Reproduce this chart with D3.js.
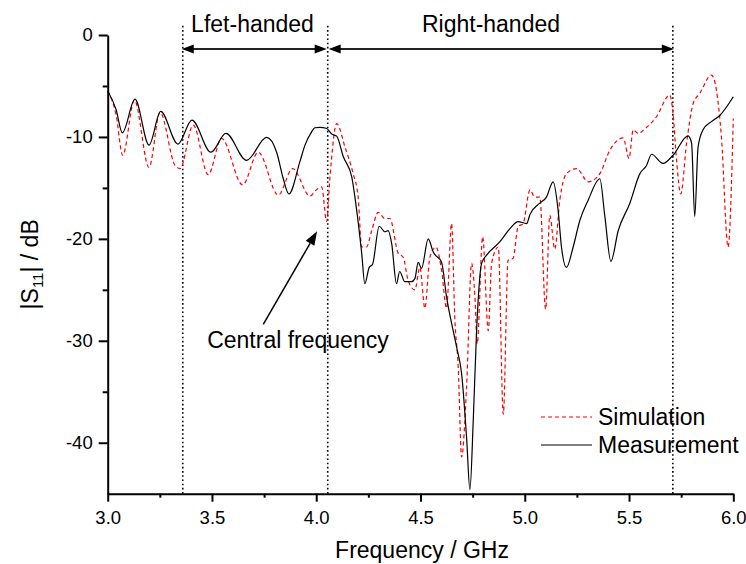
<!DOCTYPE html>
<html><head><meta charset="utf-8">
<script src="https://cdn.jsdelivr.net/npm/d3@7"></script>
<style>body{margin:0;background:#fff} svg{display:block} text{font-family:Arial,"Liberation Sans",sans-serif;fill:#000}</style>
</head><body><svg id="c" width="746" height="564"></svg>
<script>
// ---- data ----
const measFreq = [3.000,3.040,3.070,3.131,3.198,3.254,3.337,3.404,3.495,3.567,3.666,3.762,3.810,3.842,3.869,3.922,3.946,3.975,3.994,4.018,4.050,4.074,4.098,4.130,4.170,4.194,4.218,4.233,4.254,4.270,4.302,4.329,4.345,4.362,4.385,4.400,4.425,4.457,4.473,4.489,4.505,4.537,4.561,4.601,4.625,4.673,4.697,4.721,4.737,4.753,4.769,4.793,4.817,4.880,4.929,4.968,5.009,5.025,5.072,5.104,5.136,5.160,5.176,5.200,5.232,5.264,5.304,5.360,5.384,5.413,5.448,5.504,5.552,5.584,5.608,5.663,5.711,5.783,5.800,5.815,5.831,5.855,5.895,5.935,6.000];
const measDb   = [-5.5,-7.3,-9.6,-6.3,-10.8,-7.5,-10.7,-8.35,-11.5,-9.66,-12.3,-10.05,-11.5,-14.1,-15.6,-12.4,-10.8,-9.6,-9.1,-9.07,-9.17,-9.72,-9.92,-11.95,-13.9,-17.2,-21.4,-24.4,-22.8,-22.5,-18.76,-19.3,-19.2,-20.5,-24.4,-23.2,-24.2,-24.2,-23.9,-22.3,-22.9,-20.0,-21.3,-22.3,-25.7,-30.6,-33.2,-39.5,-44.6,-37.8,-29.0,-22.4,-21.6,-20.3,-19.0,-18.3,-18.5,-17.6,-16.5,-15.9,-14.4,-17.2,-20.8,-22.8,-20.8,-18.2,-16.2,-14.1,-17.8,-22.2,-19.2,-16.5,-13.6,-12.8,-11.7,-12.6,-11.8,-9.9,-10.6,-17.8,-11.0,-9.3,-8.5,-7.9,-6.06];

const simFreq = [3.000,3.040,3.072,3.128,3.198,3.251,3.323,3.347,3.410,3.482,3.546,3.647,3.722,3.818,3.887,3.970,4.000,4.026,4.050,4.066,4.098,4.138,4.177,4.201,4.218,4.241,4.266,4.297,4.329,4.353,4.393,4.417,4.441,4.473,4.497,4.521,4.545,4.574,4.601,4.625,4.649,4.665,4.681,4.697,4.721,4.745,4.761,4.772,4.798,4.825,4.841,4.873,4.897,4.920,4.944,4.968,4.992,5.025,5.048,5.072,5.100,5.120,5.144,5.168,5.200,5.248,5.304,5.360,5.408,5.472,5.500,5.520,5.544,5.576,5.632,5.695,5.711,5.728,5.748,5.776,5.808,5.840,5.895,5.919,5.943,5.975,6.000];
const simDb   = [-5.5,-7.8,-11.8,-6.4,-13.0,-7.6,-12.8,-13.1,-8.84,-13.7,-10.15,-14.7,-11.5,-15.7,-13.1,-15.8,-15.2,-14.9,-18.3,-13.9,-8.7,-11.0,-13.6,-15.9,-20.8,-20.8,-19.2,-17.4,-18.0,-18.0,-21.4,-21.8,-24.1,-25.0,-22.8,-26.8,-21.8,-20.8,-23.1,-26.8,-18.5,-28.0,-32.6,-41.4,-34.5,-22.4,-25.7,-30.3,-19.8,-29.0,-22.4,-20.8,-37.2,-22.1,-21.9,-18.8,-18.5,-15.2,-15.9,-15.9,-26.9,-17.7,-21.0,-16.2,-13.6,-13.1,-14.4,-13.6,-11.3,-10.1,-12.1,-9.3,-9.66,-9.2,-8.0,-5.9,-7.7,-12.3,-15.6,-10.6,-6.7,-5.7,-3.93,-5.4,-10.0,-20.8,-8.2];

const xMajorTicks = [3.0,3.5,4.0,4.5,5.0,5.5,6.0];
const xMinorTicks = [3.25,3.75,4.25,4.75,5.25,5.75];
const yMajorTicks = [0,-10,-20,-30,-40];
const yMinorTicks = [-5,-15,-25,-35];
const boundaryFreqs = [3.36, 4.055, 5.71];
const regionLabels = ["Lfet-handed","Right-handed"];
const seriesNames = ["Simulation","Measurement"];

// ---- layout ----
const svg = d3.select("#c");
const L = 107.7, R = 733.3, T = 35, B = 493.7;
const FS = 23;
const x = d3.scaleLinear().domain([3,6]).range([L,R]);
const y = d3.scaleLinear().domain([-45,0]).range([B,T]);

// boundaries (dotted)
svg.append("g").selectAll("line").data(boundaryFreqs).join("line")
  .attr("x1",d=>x(d)).attr("x2",d=>x(d))
  .attr("y1",y(0.9)).attr("y2",B)
  .attr("stroke","#000").attr("stroke-width",1.6).attr("stroke-dasharray","1.6,2.6");

// curves
const line = d3.line().curve(d3.curveMonotoneX).x(d=>x(d[0])).y(d=>y(d[1]));
const simData = simFreq.map((f,i)=>[f,simDb[i]]);
const measData = measFreq.map((f,i)=>[f,measDb[i]]);
svg.append("path").datum(simData).attr("d",line)
  .attr("fill","none").attr("stroke","#ff0000").attr("stroke-width",1.2).attr("stroke-dasharray","4,3");
svg.append("path").datum(measData).attr("d",line)
  .attr("fill","none").attr("stroke","#000").attr("stroke-width",1.2);

// axes
const fmt = d3.format(".1f");
const gx = svg.append("g").attr("transform",`translate(0,${B})`)
  .call(d3.axisBottom(x).tickValues(xMajorTicks).tickFormat(fmt).tickSize(8).tickPadding(9).tickSizeOuter(0));
const gxm = svg.append("g").attr("transform",`translate(0,${B})`)
  .call(d3.axisBottom(x).tickValues(xMinorTicks).tickFormat("").tickSize(4).tickSizeOuter(0));
const gy = svg.append("g").attr("transform",`translate(${L},0)`)
  .call(d3.axisLeft(y).tickValues(yMajorTicks).tickFormat(d3.format("d")).tickSize(9).tickPadding(6).tickSizeOuter(0));
const gym = svg.append("g").attr("transform",`translate(${L},0)`)
  .call(d3.axisLeft(y).tickValues(yMinorTicks).tickFormat("").tickSize(5).tickSizeOuter(0));
[gx,gxm,gy,gym].forEach(g=>{
  g.selectAll("path,line").attr("stroke","#000").attr("stroke-width",2);
  g.selectAll("text").attr("font-size",18.5).attr("fill","#000").style("font-family",'Arial,"Liberation Sans",sans-serif');
});
gxm.select(".domain").remove(); gym.select(".domain").remove();
gy.selectAll("text").text(d=> d===0 ? "0" : String(d).replace("\u2212","-"));

// axis titles
svg.append("text").attr("x",422).attr("y",558).attr("text-anchor","middle")
  .attr("font-size",FS).text("Frequency / GHz");
const yt = svg.append("text").attr("transform",`translate(38,${(T+B)/2}) rotate(-90)`)
  .attr("text-anchor","middle").attr("font-size",FS);
yt.append("tspan").text("|S");
yt.append("tspan").attr("font-size",15).attr("dy",5).text("11");
yt.append("tspan").attr("dy",-5).text("| / dB");

// region arrows
function arrowHead(g, tipX, tipY, dir, len, hw){
  g.append("path").attr("d",`M${tipX},${tipY}L${tipX-dir*len},${tipY-hw}L${tipX-dir*len},${tipY+hw}Z`).attr("fill","#000");
}
const ay = y(-1.38);
const ga = svg.append("g");
const labelCenters = [252.5, 491];
[[boundaryFreqs[0],boundaryFreqs[1]],[boundaryFreqs[1],boundaryFreqs[2]]].forEach(([a,b],i)=>{
  const xa = x(a)+ (i===1?1:-1), xb = x(b)-(i===0?1:-1);
  ga.append("line").attr("x1",xa+8).attr("x2",xb-8).attr("y1",ay).attr("y2",ay)
    .attr("stroke","#222").attr("stroke-width",2);
  arrowHead(ga,xa,ay,-1,12,4.5);
  arrowHead(ga,xb,ay,1,12,4.5);
  ga.append("text").attr("x",labelCenters[i]).attr("y",y(0.25)).attr("text-anchor","middle")
    .attr("font-size",FS).text(regionLabels[i]);
});

// central frequency annotation
const tail = [x(3.746), y(-28.4)], tip = [x(4.004), y(-19.25)];
const ang = Math.atan2(tip[1]-tail[1], tip[0]-tail[0]);
const hl = 14, hw = 5;
const bx = tip[0]-hl*Math.cos(ang), by = tip[1]-hl*Math.sin(ang);
svg.append("line").attr("x1",tail[0]).attr("y1",tail[1]).attr("x2",bx).attr("y2",by)
  .attr("stroke","#000").attr("stroke-width",1.5);
svg.append("path").attr("d",`M${tip[0]},${tip[1]}L${bx+hw*Math.sin(ang)},${by-hw*Math.cos(ang)}L${bx-hw*Math.sin(ang)},${by+hw*Math.cos(ang)}Z`).attr("fill","#000");
svg.append("text").attr("x",x(3.477)).attr("y",y(-30.7)).attr("font-size",FS).text("Central frequency");

// legend
const lg = svg.append("g");
seriesNames.forEach((n,i)=>{
  const ly = 417 + i*28;
  lg.append("line").attr("x1",541).attr("x2",592).attr("y1",ly).attr("y2",ly)
    .attr("stroke", i===0?"#ff0000":"#000").attr("stroke-width",1.2)
    .attr("stroke-dasharray", i===0?"4,3":null);
  lg.append("text").attr("x",598).attr("y",ly+8).attr("font-size",FS).text(n);
});
</script></body></html>
